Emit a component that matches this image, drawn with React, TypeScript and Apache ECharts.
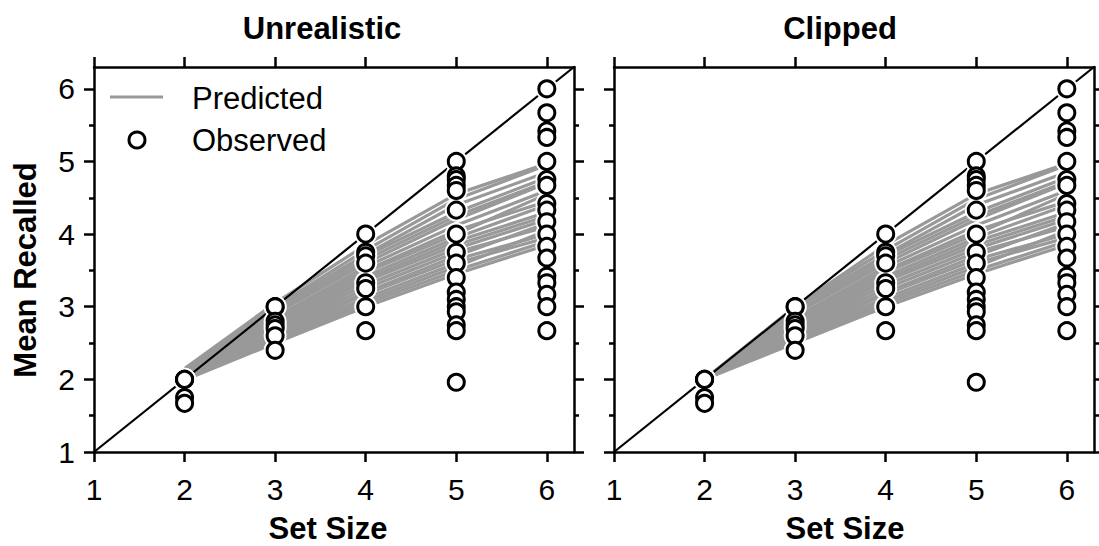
import React, { useEffect, useRef } from 'react';
import * as echarts from 'echarts';

// ---------- data ----------
const setSizes = [2, 3, 4, 5, 6];
const tickValues = [1, 2, 3, 4, 5, 6];
const minorTickValues = [1.5, 2.5, 3.5, 4.5, 5.5];
const axisMin = 1;
const axisMax = 6.3;
const identityLine = [1, 6.3];
const panelTitles = ['Unrealistic', 'Clipped'];
const xAxisTitle = 'Set Size';
const yAxisTitle = 'Mean Recalled';
const legendLabels = ['Predicted', 'Observed'];

// observed mean recalled, per set size (same in both panels)
const observedSS2 = [2.0, 2.0, 2.0, 1.75, 1.67];
const observedSS3 = [3.0, 3.0, 2.8, 2.75, 2.7, 2.6, 2.4];
const observedSS4 = [4.0, 3.75, 3.7, 3.6, 3.33, 3.25, 3.0, 2.67];
const observedSS5 = [5.0, 4.8, 4.75, 4.67, 4.6, 4.33, 4.0, 3.75, 3.6, 3.4, 3.2, 3.1, 3.0, 2.93, 2.75, 2.67, 1.96];
const observedSS6 = [6.0, 5.67, 5.42, 5.33, 5.0, 4.75, 4.67, 4.42, 4.33, 4.17, 4.0, 3.83, 3.67, 3.42, 3.33, 3.17, 3.0, 2.67];
const observedBySetSize = [observedSS2, observedSS3, observedSS4, observedSS5, observedSS6];

// predicted curves (values at set sizes 2..6), "Unrealistic" model
const predictedUnrealistic = [
  [2.15, 3.05, 3.85, 4.55, 4.97],
  [2.12, 3.0, 3.78, 4.48, 4.95],
  [2.1, 2.97, 3.72, 4.4, 4.85],
  [2.08, 2.95, 3.7, 4.3, 4.78],
  [2.1, 2.92, 3.65, 4.25, 4.72],
  [2.06, 2.9, 3.6, 4.2, 4.7],
  [2.05, 2.85, 3.55, 4.12, 4.6],
  [2.07, 2.83, 3.5, 4.05, 4.45],
  [2.04, 2.8, 3.47, 4.0, 4.55],
  [2.03, 2.78, 3.42, 3.95, 4.4],
  [2.05, 2.75, 3.38, 3.9, 4.3],
  [2.02, 2.72, 3.35, 3.85, 4.25],
  [2.03, 2.7, 3.3, 3.8, 4.2],
  [2.01, 2.67, 3.25, 3.75, 4.1],
  [2.02, 2.65, 3.2, 3.7, 4.15],
  [2.0, 2.62, 3.17, 3.65, 4.0],
  [2.01, 2.6, 3.12, 3.6, 3.95],
  [2.0, 2.57, 3.08, 3.55, 4.05],
  [2.0, 2.53, 3.04, 3.5, 3.9],
  [1.99, 2.5, 3.0, 3.45, 3.85],
];

// predicted curves, "Clipped" model
const predictedClipped = [
  [2.0, 3.0, 3.85, 4.55, 4.97],
  [2.0, 3.0, 3.78, 4.48, 4.95],
  [2.0, 2.97, 3.72, 4.4, 4.85],
  [2.0, 2.95, 3.7, 4.3, 4.78],
  [2.0, 2.92, 3.65, 4.25, 4.72],
  [2.0, 2.9, 3.6, 4.2, 4.7],
  [2.0, 2.85, 3.55, 4.12, 4.6],
  [2.0, 2.83, 3.5, 4.05, 4.45],
  [2.0, 2.8, 3.47, 4.0, 4.55],
  [2.0, 2.78, 3.42, 3.95, 4.4],
  [2.0, 2.75, 3.38, 3.9, 4.3],
  [2.0, 2.72, 3.35, 3.85, 4.25],
  [2.0, 2.7, 3.3, 3.8, 4.2],
  [2.0, 2.67, 3.25, 3.75, 4.1],
  [2.0, 2.65, 3.2, 3.7, 4.15],
  [2.0, 2.62, 3.17, 3.65, 4.0],
  [2.0, 2.6, 3.12, 3.6, 3.95],
  [2.0, 2.57, 3.08, 3.55, 4.05],
  [2.0, 2.53, 3.04, 3.5, 3.9],
  [2.0, 2.5, 3.0, 3.45, 3.85],
];
const predictedByPanel = [predictedUnrealistic, predictedClipped];

// ---------- styling ----------
const FONT = '"Liberation Sans", Arial, Helvetica, sans-serif';
const GRID_LEFTS = [94, 614];
const GRID_TOP = 67;
const GRID_W = 480;
const GRID_H = 385;
const LINE_GRAY = '#999999';

function buildOption() {
  const grids = GRID_LEFTS.map((l) => ({ left: l, top: GRID_TOP, width: GRID_W, height: GRID_H, containLabel: false }));

  const axisBase = (gridIndex: number, position: string, values: number[], len: number, showLine: boolean, labels: boolean) => ({
    type: 'value',
    gridIndex,
    position,
    min: axisMin,
    max: axisMax,
    axisLine: { show: showLine, onZero: false, lineStyle: { color: '#000', width: 2.5 } },
    axisTick: { show: true, inside: false, length: len, customValues: values, lineStyle: { color: '#000', width: 2.5 } },
    axisLabel: labels
      ? {
          show: true,
          customValues: values,
          color: '#000',
          fontFamily: FONT,
          fontSize: 30,
          margin: position === 'bottom' ? 22 : 19,
          formatter: (v: number) => String(v),
        }
      : { show: false },
    splitLine: { show: false },
    minorTick: { show: false },
    minorSplitLine: { show: false },
  });

  const xAxes: any[] = [];
  const yAxes: any[] = [];
  [0, 1].forEach((p) => {
    xAxes.push(axisBase(p, 'bottom', tickValues, 10, true, true));
    xAxes.push(axisBase(p, 'top', tickValues, 10, true, false));
    yAxes.push(axisBase(p, 'left', tickValues, 10, true, p === 0));
    yAxes.push(axisBase(p, 'left', minorTickValues, 5, false, false));
    yAxes.push(axisBase(p, 'right', tickValues, 10, true, false));
    yAxes.push(axisBase(p, 'right', minorTickValues, 5, false, false));
  });

  const observedPoints: number[][] = [];
  setSizes.forEach((s, i) => observedBySetSize[i].forEach((v) => observedPoints.push([s, v])));

  const series: any[] = [];
  [0, 1].forEach((p) => {
    const xi = p * 2;
    const yi = p * 4;
    predictedByPanel[p].forEach((vals) => {
      series.push({
        type: 'line',
        xAxisIndex: xi,
        yAxisIndex: yi,
        data: setSizes.map((s, j) => [s, vals[j]]),
        symbol: 'none',
        showSymbol: false,
        lineStyle: { color: LINE_GRAY, width: 3.2 },
        silent: true,
        z: 2,
      });
    });
    series.push({
      type: 'line',
      xAxisIndex: xi,
      yAxisIndex: yi,
      data: identityLine.map((v) => [v, v]),
      symbol: 'none',
      showSymbol: false,
      lineStyle: { color: '#000', width: 2.2 },
      silent: true,
      z: 3,
    });
    series.push({
      type: 'scatter',
      xAxisIndex: xi,
      yAxisIndex: yi,
      data: observedPoints,
      symbol: 'circle',
      symbolSize: 23,
      itemStyle: { color: '#fff', borderWidth: 0, opacity: 1 },
      silent: true,
      z: 4,
    });
    series.push({
      type: 'scatter',
      xAxisIndex: xi,
      yAxisIndex: yi,
      data: observedPoints,
      symbol: 'circle',
      symbolSize: 16,
      itemStyle: { color: '#fff', borderColor: '#000', borderWidth: 3, opacity: 1 },
      silent: true,
      z: 5,
    });
  });

  const txt = (x: number, y: number, text: string, bold: boolean, align: string, rotation = 0) => ({
    type: 'text',
    x,
    y,
    rotation,
    style: {
      text,
      fill: '#000',
      font: `${bold ? 'bold ' : ''}31px ${FONT}`,
      align,
      verticalAlign: 'middle',
      textAlign: align,
      textVerticalAlign: 'middle',
    },
    z: 10,
  });

  const graphic: any[] = [
    txt(322, 28, panelTitles[0], true, 'center'),
    txt(840, 28, panelTitles[1], true, 'center'),
    txt(328, 528, xAxisTitle, true, 'center'),
    txt(845, 528, xAxisTitle, true, 'center'),
    txt(25, 270, yAxisTitle, true, 'center', Math.PI / 2),
    {
      type: 'line',
      shape: { x1: 110, y1: 97, x2: 163, y2: 97 },
      style: { stroke: LINE_GRAY, lineWidth: 3 },
      z: 10,
    },
    {
      type: 'circle',
      shape: { cx: 137, cy: 140, r: 8 },
      style: { fill: '#fff', stroke: '#000', lineWidth: 3 },
      z: 10,
    },
    txt(192, 98, legendLabels[0], false, 'left'),
    txt(192, 140, legendLabels[1], false, 'left'),
  ];

  return {
    animation: false,
    backgroundColor: '#fff',
    grid: grids,
    xAxis: xAxes,
    yAxis: yAxes,
    series,
    graphic,
  };
}

export default function App() {
  const ref = useRef<HTMLDivElement>(null);
  useEffect(() => {
    if (!ref.current) return;
    const chart = echarts.init(ref.current, undefined, { renderer: 'svg' });
    chart.setOption(buildOption() as any);
    return () => chart.dispose();
  }, []);
  return <div ref={ref} style={{ position: 'absolute', left: 0, top: 0, width: 1099, height: 546 }} />;
}
